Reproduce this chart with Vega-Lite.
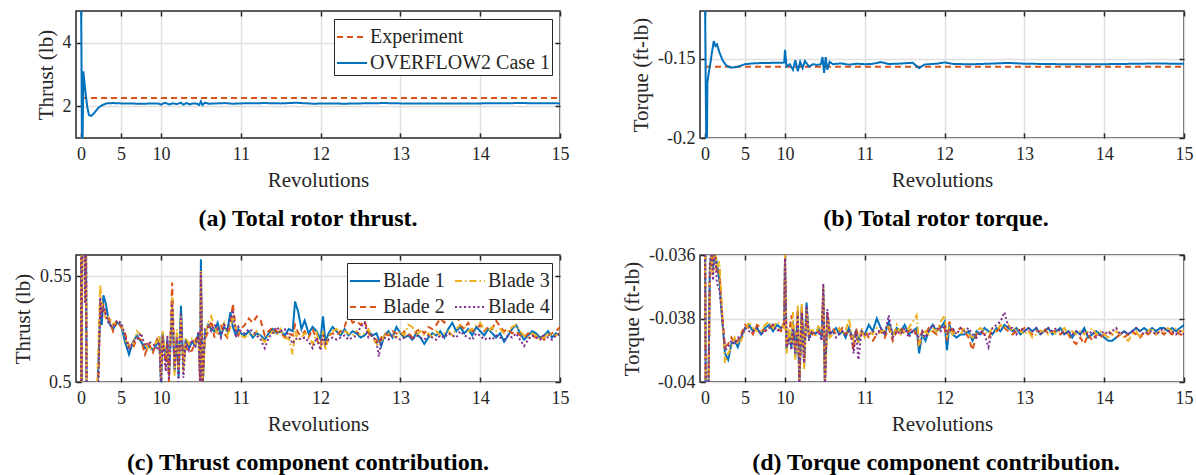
{
  "$schema": "https://vega.github.io/schema/vega-lite/v6.json",
  "background": "white",
  "padding": {"left": 11, "top": 9, "right": 0, "bottom": 0},
  "config": {
    "font": "Liberation Serif",
    "view": {"stroke": "#262626", "strokeWidth": 1.5},
    "axis": {
      "labelFont": "Liberation Serif", "labelFontSize": 18, "labelColor": "#262626",
      "titleFont": "Liberation Serif", "titleFontSize": 21, "titleFontWeight": "normal", "titleColor": "#262626",
      "gridColor": "#e0e0e0", "gridWidth": 1.5, "domain": false,
      "tickColor": "#262626", "tickSize": -5, "tickWidth": 1.5,
      "labelFlush": false, "labelOverlap": false
    },
    "axisX": {"labelPadding": 12, "titlePadding": 6},
    "axisY": {"labelPadding": 10, "titlePadding": 6},
    "legend": {
      "labelFont": "Liberation Serif", "labelFontSize": 20, "labelColor": "#262626", "labelLimit": 0,
      "strokeColor": "#262626", "fillColor": "white", "padding": 2,
      "symbolSize": 900, "symbolStrokeWidth": 2, "symbolType": "stroke",
      "labelOffset": 2, "rowPadding": -9, "columnPadding": 6, "offset": 8
    },
    "title": {"font": "Liberation Serif", "fontSize": 24, "fontWeight": "bold", "color": "black", "orient": "bottom", "frame": "group", "anchor": "middle", "offset": 17}
  },
  "resolve": {"scale": {"color": "independent", "strokeDash": "independent"}, "legend": {"color": "independent", "strokeDash": "independent"}},
  "datasets": {
    "a": [
      {"s": "Experiment", "x": 0, "y": 2.26},
      {"s": "Experiment", "x": 15, "y": 2.26},
      {"s": "OVERFLOW2 Case 1", "x": 0, "y": 5.5},
      {"s": "OVERFLOW2 Case 1", "x": 0.05, "y": 4.0},
      {"s": "OVERFLOW2 Case 1", "x": 0.12, "y": 0.8},
      {"s": "OVERFLOW2 Case 1", "x": 0.2, "y": 0.9},
      {"s": "OVERFLOW2 Case 1", "x": 0.3, "y": 3.1},
      {"s": "OVERFLOW2 Case 1", "x": 0.45, "y": 2.7},
      {"s": "OVERFLOW2 Case 1", "x": 0.6, "y": 2.35},
      {"s": "OVERFLOW2 Case 1", "x": 0.8, "y": 1.95},
      {"s": "OVERFLOW2 Case 1", "x": 1.0, "y": 1.72},
      {"s": "OVERFLOW2 Case 1", "x": 1.3, "y": 1.7},
      {"s": "OVERFLOW2 Case 1", "x": 1.7, "y": 1.8},
      {"s": "OVERFLOW2 Case 1", "x": 2.2, "y": 1.96},
      {"s": "OVERFLOW2 Case 1", "x": 2.7, "y": 2.04},
      {"s": "OVERFLOW2 Case 1", "x": 3.2, "y": 2.09},
      {"s": "OVERFLOW2 Case 1", "x": 4, "y": 2.1},
      {"s": "OVERFLOW2 Case 1", "x": 5, "y": 2.09},
      {"s": "OVERFLOW2 Case 1", "x": 6, "y": 2.09},
      {"s": "OVERFLOW2 Case 1", "x": 7, "y": 2.08},
      {"s": "OVERFLOW2 Case 1", "x": 8, "y": 2.08},
      {"s": "OVERFLOW2 Case 1", "x": 9, "y": 2.09},
      {"s": "OVERFLOW2 Case 1", "x": 9.8, "y": 2.08},
      {"s": "OVERFLOW2 Case 1", "x": 10.0, "y": 2.05},
      {"s": "OVERFLOW2 Case 1", "x": 10.05, "y": 2.11},
      {"s": "OVERFLOW2 Case 1", "x": 10.1, "y": 2.06},
      {"s": "OVERFLOW2 Case 1", "x": 10.15, "y": 2.09},
      {"s": "OVERFLOW2 Case 1", "x": 10.2, "y": 2.07},
      {"s": "OVERFLOW2 Case 1", "x": 10.25, "y": 2.11},
      {"s": "OVERFLOW2 Case 1", "x": 10.28, "y": 2.05},
      {"s": "OVERFLOW2 Case 1", "x": 10.32, "y": 2.1},
      {"s": "OVERFLOW2 Case 1", "x": 10.36, "y": 2.06},
      {"s": "OVERFLOW2 Case 1", "x": 10.4, "y": 2.09},
      {"s": "OVERFLOW2 Case 1", "x": 10.45, "y": 2.08},
      {"s": "OVERFLOW2 Case 1", "x": 10.48, "y": 2.04},
      {"s": "OVERFLOW2 Case 1", "x": 10.5, "y": 2.15},
      {"s": "OVERFLOW2 Case 1", "x": 10.52, "y": 2.04},
      {"s": "OVERFLOW2 Case 1", "x": 10.55, "y": 2.11},
      {"s": "OVERFLOW2 Case 1", "x": 10.6, "y": 2.08},
      {"s": "OVERFLOW2 Case 1", "x": 10.7, "y": 2.09},
      {"s": "OVERFLOW2 Case 1", "x": 10.8, "y": 2.1},
      {"s": "OVERFLOW2 Case 1", "x": 10.9, "y": 2.08},
      {"s": "OVERFLOW2 Case 1", "x": 11, "y": 2.09},
      {"s": "OVERFLOW2 Case 1", "x": 11.3, "y": 2.1},
      {"s": "OVERFLOW2 Case 1", "x": 11.5, "y": 2.09},
      {"s": "OVERFLOW2 Case 1", "x": 11.7, "y": 2.11},
      {"s": "OVERFLOW2 Case 1", "x": 11.9, "y": 2.08},
      {"s": "OVERFLOW2 Case 1", "x": 12.1, "y": 2.09},
      {"s": "OVERFLOW2 Case 1", "x": 12.3, "y": 2.08},
      {"s": "OVERFLOW2 Case 1", "x": 12.5, "y": 2.09},
      {"s": "OVERFLOW2 Case 1", "x": 12.8, "y": 2.1},
      {"s": "OVERFLOW2 Case 1", "x": 13, "y": 2.09},
      {"s": "OVERFLOW2 Case 1", "x": 13.5, "y": 2.09},
      {"s": "OVERFLOW2 Case 1", "x": 14, "y": 2.09},
      {"s": "OVERFLOW2 Case 1", "x": 14.5, "y": 2.1},
      {"s": "OVERFLOW2 Case 1", "x": 15, "y": 2.09}
    ],
    "b": [
      {"s": "Experiment", "x": 0, "y": -0.1551},
      {"s": "Experiment", "x": 15, "y": -0.1551},
      {"s": "OVERFLOW2 Case 1", "x": 0, "y": -0.11},
      {"s": "OVERFLOW2 Case 1", "x": 0.1, "y": -0.17},
      {"s": "OVERFLOW2 Case 1", "x": 0.18, "y": -0.21},
      {"s": "OVERFLOW2 Case 1", "x": 0.25, "y": -0.2},
      {"s": "OVERFLOW2 Case 1", "x": 0.3, "y": -0.165},
      {"s": "OVERFLOW2 Case 1", "x": 0.5, "y": -0.158},
      {"s": "OVERFLOW2 Case 1", "x": 0.7, "y": -0.152},
      {"s": "OVERFLOW2 Case 1", "x": 0.9, "y": -0.145},
      {"s": "OVERFLOW2 Case 1", "x": 1.1, "y": -0.139},
      {"s": "OVERFLOW2 Case 1", "x": 1.3, "y": -0.142},
      {"s": "OVERFLOW2 Case 1", "x": 1.5, "y": -0.141},
      {"s": "OVERFLOW2 Case 1", "x": 1.8, "y": -0.146},
      {"s": "OVERFLOW2 Case 1", "x": 2.2, "y": -0.151},
      {"s": "OVERFLOW2 Case 1", "x": 2.6, "y": -0.154},
      {"s": "OVERFLOW2 Case 1", "x": 3.2, "y": -0.1557},
      {"s": "OVERFLOW2 Case 1", "x": 4, "y": -0.1553},
      {"s": "OVERFLOW2 Case 1", "x": 5, "y": -0.1535},
      {"s": "OVERFLOW2 Case 1", "x": 6, "y": -0.153},
      {"s": "OVERFLOW2 Case 1", "x": 7, "y": -0.1528},
      {"s": "OVERFLOW2 Case 1", "x": 8, "y": -0.1527},
      {"s": "OVERFLOW2 Case 1", "x": 9, "y": -0.1526},
      {"s": "OVERFLOW2 Case 1", "x": 9.9, "y": -0.1525},
      {"s": "OVERFLOW2 Case 1", "x": 10.0, "y": -0.1445},
      {"s": "OVERFLOW2 Case 1", "x": 10.02, "y": -0.155},
      {"s": "OVERFLOW2 Case 1", "x": 10.06, "y": -0.1535},
      {"s": "OVERFLOW2 Case 1", "x": 10.1, "y": -0.157},
      {"s": "OVERFLOW2 Case 1", "x": 10.13, "y": -0.151},
      {"s": "OVERFLOW2 Case 1", "x": 10.16, "y": -0.158},
      {"s": "OVERFLOW2 Case 1", "x": 10.19, "y": -0.152},
      {"s": "OVERFLOW2 Case 1", "x": 10.22, "y": -0.156},
      {"s": "OVERFLOW2 Case 1", "x": 10.25, "y": -0.1515},
      {"s": "OVERFLOW2 Case 1", "x": 10.3, "y": -0.155},
      {"s": "OVERFLOW2 Case 1", "x": 10.35, "y": -0.1535},
      {"s": "OVERFLOW2 Case 1", "x": 10.4, "y": -0.154},
      {"s": "OVERFLOW2 Case 1", "x": 10.45, "y": -0.1535},
      {"s": "OVERFLOW2 Case 1", "x": 10.47, "y": -0.149},
      {"s": "OVERFLOW2 Case 1", "x": 10.49, "y": -0.159},
      {"s": "OVERFLOW2 Case 1", "x": 10.51, "y": -0.149},
      {"s": "OVERFLOW2 Case 1", "x": 10.53, "y": -0.157},
      {"s": "OVERFLOW2 Case 1", "x": 10.56, "y": -0.152},
      {"s": "OVERFLOW2 Case 1", "x": 10.6, "y": -0.1535},
      {"s": "OVERFLOW2 Case 1", "x": 10.7, "y": -0.153},
      {"s": "OVERFLOW2 Case 1", "x": 10.8, "y": -0.1538},
      {"s": "OVERFLOW2 Case 1", "x": 10.9, "y": -0.1532},
      {"s": "OVERFLOW2 Case 1", "x": 11, "y": -0.1535},
      {"s": "OVERFLOW2 Case 1", "x": 11.1, "y": -0.1533},
      {"s": "OVERFLOW2 Case 1", "x": 11.2, "y": -0.1522},
      {"s": "OVERFLOW2 Case 1", "x": 11.3, "y": -0.1534},
      {"s": "OVERFLOW2 Case 1", "x": 11.45, "y": -0.1531},
      {"s": "OVERFLOW2 Case 1", "x": 11.6, "y": -0.1526},
      {"s": "OVERFLOW2 Case 1", "x": 11.68, "y": -0.156},
      {"s": "OVERFLOW2 Case 1", "x": 11.75, "y": -0.1537},
      {"s": "OVERFLOW2 Case 1", "x": 11.9, "y": -0.1532},
      {"s": "OVERFLOW2 Case 1", "x": 12.0, "y": -0.1524},
      {"s": "OVERFLOW2 Case 1", "x": 12.1, "y": -0.1533},
      {"s": "OVERFLOW2 Case 1", "x": 12.3, "y": -0.1536},
      {"s": "OVERFLOW2 Case 1", "x": 12.5, "y": -0.1533},
      {"s": "OVERFLOW2 Case 1", "x": 12.8, "y": -0.1527},
      {"s": "OVERFLOW2 Case 1", "x": 13.0, "y": -0.1532},
      {"s": "OVERFLOW2 Case 1", "x": 13.3, "y": -0.1534},
      {"s": "OVERFLOW2 Case 1", "x": 13.6, "y": -0.1536},
      {"s": "OVERFLOW2 Case 1", "x": 14.0, "y": -0.1535},
      {"s": "OVERFLOW2 Case 1", "x": 14.3, "y": -0.1533},
      {"s": "OVERFLOW2 Case 1", "x": 14.6, "y": -0.1531},
      {"s": "OVERFLOW2 Case 1", "x": 15, "y": -0.1532}
    ],
    "c": [
      {"x": 0, "Blade 1": 0.58, "Blade 2": 0.58, "Blade 3": 0.58, "Blade 4": 0.58},
      {"x": 0.05, "Blade 1": 0.45, "Blade 2": 0.45, "Blade 3": 0.45, "Blade 4": 0.45},
      {"x": 0.15, "Blade 1": 0.6, "Blade 2": 0.6, "Blade 3": 0.6, "Blade 4": 0.6},
      {"x": 0.4, "Blade 1": 0.59, "Blade 2": 0.6, "Blade 3": 0.58, "Blade 4": 0.6},
      {"x": 0.5, "Blade 1": 0.545, "Blade 2": 0.54, "Blade 3": 0.538, "Blade 4": 0.537},
      {"x": 0.6, "Blade 1": 0.6, "Blade 2": 0.6, "Blade 3": 0.6, "Blade 4": 0.6},
      {"x": 0.75, "Blade 1": 0.44, "Blade 2": 0.44, "Blade 3": 0.44, "Blade 4": 0.44},
      {"x": 1.5, "Blade 1": 0.46, "Blade 2": 0.46, "Blade 3": 0.46, "Blade 4": 0.46},
      {"x": 2.0, "Blade 1": 0.488, "Blade 2": 0.49, "Blade 3": 0.495, "Blade 4": 0.485},
      {"x": 2.2, "Blade 1": 0.512, "Blade 2": 0.505, "Blade 3": 0.52, "Blade 4": 0.502},
      {"x": 2.4, "Blade 1": 0.532, "Blade 2": 0.538, "Blade 3": 0.546, "Blade 4": 0.54},
      {"x": 2.6, "Blade 1": 0.527, "Blade 2": 0.533, "Blade 3": 0.537, "Blade 4": 0.53},
      {"x": 2.8, "Blade 1": 0.541, "Blade 2": 0.537, "Blade 3": 0.534, "Blade 4": 0.536},
      {"x": 3.1, "Blade 1": 0.537, "Blade 2": 0.531, "Blade 3": 0.53, "Blade 4": 0.532},
      {"x": 3.5, "Blade 1": 0.528, "Blade 2": 0.53, "Blade 3": 0.531, "Blade 4": 0.527},
      {"x": 4.0, "Blade 1": 0.525, "Blade 2": 0.524, "Blade 3": 0.527, "Blade 4": 0.526},
      {"x": 4.5, "Blade 1": 0.528, "Blade 2": 0.529, "Blade 3": 0.529, "Blade 4": 0.529},
      {"x": 5.0, "Blade 1": 0.527, "Blade 2": 0.526, "Blade 3": 0.528, "Blade 4": 0.528},
      {"x": 5.5, "Blade 1": 0.519, "Blade 2": 0.523, "Blade 3": 0.521, "Blade 4": 0.522},
      {"x": 6.0, "Blade 1": 0.513, "Blade 2": 0.517, "Blade 3": 0.516, "Blade 4": 0.515},
      {"x": 6.5, "Blade 1": 0.519, "Blade 2": 0.516, "Blade 3": 0.518, "Blade 4": 0.519},
      {"x": 7.0, "Blade 1": 0.522, "Blade 2": 0.521, "Blade 3": 0.524, "Blade 4": 0.52},
      {"x": 7.5, "Blade 1": 0.519, "Blade 2": 0.52, "Blade 3": 0.522, "Blade 4": 0.523},
      {"x": 8.0, "Blade 1": 0.516, "Blade 2": 0.513, "Blade 3": 0.518, "Blade 4": 0.517},
      {"x": 8.5, "Blade 1": 0.517, "Blade 2": 0.518, "Blade 3": 0.515, "Blade 4": 0.519},
      {"x": 9.0, "Blade 1": 0.515, "Blade 2": 0.514, "Blade 3": 0.517, "Blade 4": 0.518},
      {"x": 9.5, "Blade 1": 0.518, "Blade 2": 0.52, "Blade 3": 0.519, "Blade 4": 0.516},
      {"x": 9.8, "Blade 1": 0.52, "Blade 2": 0.517, "Blade 3": 0.522, "Blade 4": 0.519},
      {"x": 10.0, "Blade 1": 0.499, "Blade 2": 0.503, "Blade 3": 0.501, "Blade 4": 0.497},
      {"x": 10.02, "Blade 1": 0.523, "Blade 2": 0.522, "Blade 3": 0.524, "Blade 4": 0.521},
      {"x": 10.06, "Blade 1": 0.51, "Blade 2": 0.507, "Blade 3": 0.512, "Blade 4": 0.505},
      {"x": 10.08, "Blade 1": 0.52, "Blade 2": 0.518, "Blade 3": 0.516, "Blade 4": 0.522},
      {"x": 10.1, "Blade 1": 0.503, "Blade 2": 0.5, "Blade 3": 0.506, "Blade 4": 0.501},
      {"x": 10.14, "Blade 1": 0.535, "Blade 2": 0.547, "Blade 3": 0.54, "Blade 4": 0.538},
      {"x": 10.17, "Blade 1": 0.505, "Blade 2": 0.508, "Blade 3": 0.503, "Blade 4": 0.506},
      {"x": 10.2, "Blade 1": 0.523, "Blade 2": 0.52, "Blade 3": 0.525, "Blade 4": 0.521},
      {"x": 10.22, "Blade 1": 0.502, "Blade 2": 0.506, "Blade 3": 0.504, "Blade 4": 0.5},
      {"x": 10.25, "Blade 1": 0.536, "Blade 2": 0.528, "Blade 3": 0.531, "Blade 4": 0.533},
      {"x": 10.28, "Blade 1": 0.507, "Blade 2": 0.51, "Blade 3": 0.505, "Blade 4": 0.502},
      {"x": 10.31, "Blade 1": 0.52, "Blade 2": 0.517, "Blade 3": 0.521, "Blade 4": 0.519},
      {"x": 10.35, "Blade 1": 0.516, "Blade 2": 0.514, "Blade 3": 0.518, "Blade 4": 0.515},
      {"x": 10.39, "Blade 1": 0.519, "Blade 2": 0.515, "Blade 3": 0.521, "Blade 4": 0.52},
      {"x": 10.43, "Blade 1": 0.517, "Blade 2": 0.52, "Blade 3": 0.518, "Blade 4": 0.516},
      {"x": 10.47, "Blade 1": 0.523, "Blade 2": 0.522, "Blade 3": 0.52, "Blade 4": 0.524},
      {"x": 10.49, "Blade 1": 0.502, "Blade 2": 0.5, "Blade 3": 0.498, "Blade 4": 0.499},
      {"x": 10.5, "Blade 1": 0.558, "Blade 2": 0.55, "Blade 3": 0.553, "Blade 4": 0.552},
      {"x": 10.52, "Blade 1": 0.495, "Blade 2": 0.498, "Blade 3": 0.497, "Blade 4": 0.496},
      {"x": 10.55, "Blade 1": 0.523, "Blade 2": 0.52, "Blade 3": 0.521, "Blade 4": 0.525},
      {"x": 10.59, "Blade 1": 0.527, "Blade 2": 0.524, "Blade 3": 0.528, "Blade 4": 0.526},
      {"x": 10.63, "Blade 1": 0.525, "Blade 2": 0.529, "Blade 3": 0.531, "Blade 4": 0.524},
      {"x": 10.67, "Blade 1": 0.524, "Blade 2": 0.521, "Blade 3": 0.526, "Blade 4": 0.527},
      {"x": 10.71, "Blade 1": 0.528, "Blade 2": 0.526, "Blade 3": 0.523, "Blade 4": 0.525},
      {"x": 10.75, "Blade 1": 0.522, "Blade 2": 0.527, "Blade 3": 0.525, "Blade 4": 0.521},
      {"x": 10.79, "Blade 1": 0.526, "Blade 2": 0.523, "Blade 3": 0.528, "Blade 4": 0.527},
      {"x": 10.83, "Blade 1": 0.524, "Blade 2": 0.521, "Blade 3": 0.522, "Blade 4": 0.525},
      {"x": 10.87, "Blade 1": 0.533, "Blade 2": 0.527, "Blade 3": 0.526, "Blade 4": 0.529},
      {"x": 10.9, "Blade 1": 0.526, "Blade 2": 0.537, "Blade 3": 0.531, "Blade 4": 0.534},
      {"x": 10.94, "Blade 1": 0.522, "Blade 2": 0.524, "Blade 3": 0.525, "Blade 4": 0.521},
      {"x": 10.97, "Blade 1": 0.525, "Blade 2": 0.522, "Blade 3": 0.524, "Blade 4": 0.526},
      {"x": 11.0, "Blade 1": 0.523, "Blade 2": 0.525, "Blade 3": 0.522, "Blade 4": 0.524},
      {"x": 11.05, "Blade 1": 0.522, "Blade 2": 0.527, "Blade 3": 0.521, "Blade 4": 0.523},
      {"x": 11.1, "Blade 1": 0.524, "Blade 2": 0.53, "Blade 3": 0.523, "Blade 4": 0.525},
      {"x": 11.15, "Blade 1": 0.521, "Blade 2": 0.528, "Blade 3": 0.522, "Blade 4": 0.524},
      {"x": 11.2, "Blade 1": 0.523, "Blade 2": 0.531, "Blade 3": 0.524, "Blade 4": 0.522},
      {"x": 11.25, "Blade 1": 0.522, "Blade 2": 0.529, "Blade 3": 0.521, "Blade 4": 0.52},
      {"x": 11.3, "Blade 1": 0.52, "Blade 2": 0.522, "Blade 3": 0.519, "Blade 4": 0.516},
      {"x": 11.35, "Blade 1": 0.523, "Blade 2": 0.524, "Blade 3": 0.522, "Blade 4": 0.521},
      {"x": 11.4, "Blade 1": 0.525, "Blade 2": 0.526, "Blade 3": 0.524, "Blade 4": 0.523},
      {"x": 11.45, "Blade 1": 0.523, "Blade 2": 0.524, "Blade 3": 0.522, "Blade 4": 0.526},
      {"x": 11.5, "Blade 1": 0.524, "Blade 2": 0.523, "Blade 3": 0.525, "Blade 4": 0.524},
      {"x": 11.55, "Blade 1": 0.522, "Blade 2": 0.521, "Blade 3": 0.52, "Blade 4": 0.525},
      {"x": 11.6, "Blade 1": 0.525, "Blade 2": 0.523, "Blade 3": 0.521, "Blade 4": 0.522},
      {"x": 11.65, "Blade 1": 0.524, "Blade 2": 0.522, "Blade 3": 0.513, "Blade 4": 0.518},
      {"x": 11.68, "Blade 1": 0.538, "Blade 2": 0.527, "Blade 3": 0.524, "Blade 4": 0.52},
      {"x": 11.72, "Blade 1": 0.533, "Blade 2": 0.523, "Blade 3": 0.52, "Blade 4": 0.521},
      {"x": 11.76, "Blade 1": 0.525, "Blade 2": 0.522, "Blade 3": 0.521, "Blade 4": 0.52},
      {"x": 11.8, "Blade 1": 0.529, "Blade 2": 0.524, "Blade 3": 0.523, "Blade 4": 0.521},
      {"x": 11.85, "Blade 1": 0.523, "Blade 2": 0.521, "Blade 3": 0.522, "Blade 4": 0.519},
      {"x": 11.9, "Blade 1": 0.526, "Blade 2": 0.525, "Blade 3": 0.518, "Blade 4": 0.516},
      {"x": 11.95, "Blade 1": 0.524, "Blade 2": 0.52, "Blade 3": 0.523, "Blade 4": 0.521},
      {"x": 12.0, "Blade 1": 0.52, "Blade 2": 0.517, "Blade 3": 0.516, "Blade 4": 0.515},
      {"x": 12.03, "Blade 1": 0.531, "Blade 2": 0.523, "Blade 3": 0.524, "Blade 4": 0.522},
      {"x": 12.06, "Blade 1": 0.519, "Blade 2": 0.516, "Blade 3": 0.515, "Blade 4": 0.518},
      {"x": 12.1, "Blade 1": 0.523, "Blade 2": 0.522, "Blade 3": 0.521, "Blade 4": 0.52},
      {"x": 12.15, "Blade 1": 0.526, "Blade 2": 0.523, "Blade 3": 0.524, "Blade 4": 0.521},
      {"x": 12.2, "Blade 1": 0.524, "Blade 2": 0.522, "Blade 3": 0.525, "Blade 4": 0.52},
      {"x": 12.25, "Blade 1": 0.522, "Blade 2": 0.524, "Blade 3": 0.523, "Blade 4": 0.521},
      {"x": 12.3, "Blade 1": 0.525, "Blade 2": 0.526, "Blade 3": 0.524, "Blade 4": 0.522},
      {"x": 12.35, "Blade 1": 0.522, "Blade 2": 0.532, "Blade 3": 0.523, "Blade 4": 0.52},
      {"x": 12.4, "Blade 1": 0.524, "Blade 2": 0.528, "Blade 3": 0.522, "Blade 4": 0.521},
      {"x": 12.45, "Blade 1": 0.523, "Blade 2": 0.529, "Blade 3": 0.524, "Blade 4": 0.522},
      {"x": 12.5, "Blade 1": 0.521, "Blade 2": 0.527, "Blade 3": 0.522, "Blade 4": 0.526},
      {"x": 12.55, "Blade 1": 0.522, "Blade 2": 0.529, "Blade 3": 0.523, "Blade 4": 0.528},
      {"x": 12.6, "Blade 1": 0.524, "Blade 2": 0.523, "Blade 3": 0.525, "Blade 4": 0.521},
      {"x": 12.65, "Blade 1": 0.522, "Blade 2": 0.521, "Blade 3": 0.521, "Blade 4": 0.522},
      {"x": 12.7, "Blade 1": 0.523, "Blade 2": 0.52, "Blade 3": 0.518, "Blade 4": 0.519},
      {"x": 12.73, "Blade 1": 0.52, "Blade 2": 0.518, "Blade 3": 0.517, "Blade 4": 0.512},
      {"x": 12.76, "Blade 1": 0.517, "Blade 2": 0.521, "Blade 3": 0.519, "Blade 4": 0.52},
      {"x": 12.8, "Blade 1": 0.522, "Blade 2": 0.523, "Blade 3": 0.522, "Blade 4": 0.521},
      {"x": 12.85, "Blade 1": 0.524, "Blade 2": 0.522, "Blade 3": 0.523, "Blade 4": 0.52},
      {"x": 12.9, "Blade 1": 0.521, "Blade 2": 0.524, "Blade 3": 0.522, "Blade 4": 0.522},
      {"x": 12.95, "Blade 1": 0.526, "Blade 2": 0.523, "Blade 3": 0.521, "Blade 4": 0.521},
      {"x": 13.0, "Blade 1": 0.523, "Blade 2": 0.522, "Blade 3": 0.524, "Blade 4": 0.52},
      {"x": 13.05, "Blade 1": 0.521, "Blade 2": 0.524, "Blade 3": 0.522, "Blade 4": 0.521},
      {"x": 13.1, "Blade 1": 0.522, "Blade 2": 0.523, "Blade 3": 0.527, "Blade 4": 0.522},
      {"x": 13.15, "Blade 1": 0.52, "Blade 2": 0.521, "Blade 3": 0.526, "Blade 4": 0.52},
      {"x": 13.2, "Blade 1": 0.523, "Blade 2": 0.524, "Blade 3": 0.522, "Blade 4": 0.522},
      {"x": 13.25, "Blade 1": 0.521, "Blade 2": 0.525, "Blade 3": 0.524, "Blade 4": 0.521},
      {"x": 13.3, "Blade 1": 0.518, "Blade 2": 0.523, "Blade 3": 0.522, "Blade 4": 0.52},
      {"x": 13.35, "Blade 1": 0.521, "Blade 2": 0.526, "Blade 3": 0.523, "Blade 4": 0.522},
      {"x": 13.4, "Blade 1": 0.523, "Blade 2": 0.525, "Blade 3": 0.521, "Blade 4": 0.521},
      {"x": 13.45, "Blade 1": 0.522, "Blade 2": 0.527, "Blade 3": 0.524, "Blade 4": 0.52},
      {"x": 13.5, "Blade 1": 0.524, "Blade 2": 0.53, "Blade 3": 0.522, "Blade 4": 0.522},
      {"x": 13.55, "Blade 1": 0.521, "Blade 2": 0.528, "Blade 3": 0.523, "Blade 4": 0.521},
      {"x": 13.6, "Blade 1": 0.525, "Blade 2": 0.531, "Blade 3": 0.524, "Blade 4": 0.523},
      {"x": 13.65, "Blade 1": 0.528, "Blade 2": 0.529, "Blade 3": 0.522, "Blade 4": 0.522},
      {"x": 13.7, "Blade 1": 0.524, "Blade 2": 0.533, "Blade 3": 0.525, "Blade 4": 0.521},
      {"x": 13.75, "Blade 1": 0.526, "Blade 2": 0.527, "Blade 3": 0.527, "Blade 4": 0.524},
      {"x": 13.8, "Blade 1": 0.523, "Blade 2": 0.525, "Blade 3": 0.526, "Blade 4": 0.522},
      {"x": 13.85, "Blade 1": 0.525, "Blade 2": 0.528, "Blade 3": 0.524, "Blade 4": 0.521},
      {"x": 13.9, "Blade 1": 0.522, "Blade 2": 0.524, "Blade 3": 0.525, "Blade 4": 0.52},
      {"x": 13.95, "Blade 1": 0.526, "Blade 2": 0.525, "Blade 3": 0.527, "Blade 4": 0.523},
      {"x": 14.0, "Blade 1": 0.524, "Blade 2": 0.527, "Blade 3": 0.528, "Blade 4": 0.522},
      {"x": 14.05, "Blade 1": 0.522, "Blade 2": 0.524, "Blade 3": 0.525, "Blade 4": 0.52},
      {"x": 14.1, "Blade 1": 0.525, "Blade 2": 0.526, "Blade 3": 0.524, "Blade 4": 0.521},
      {"x": 14.15, "Blade 1": 0.523, "Blade 2": 0.525, "Blade 3": 0.526, "Blade 4": 0.52},
      {"x": 14.2, "Blade 1": 0.521, "Blade 2": 0.529, "Blade 3": 0.524, "Blade 4": 0.522},
      {"x": 14.25, "Blade 1": 0.523, "Blade 2": 0.526, "Blade 3": 0.525, "Blade 4": 0.521},
      {"x": 14.3, "Blade 1": 0.519, "Blade 2": 0.524, "Blade 3": 0.523, "Blade 4": 0.52},
      {"x": 14.35, "Blade 1": 0.522, "Blade 2": 0.525, "Blade 3": 0.524, "Blade 4": 0.522},
      {"x": 14.4, "Blade 1": 0.525, "Blade 2": 0.523, "Blade 3": 0.526, "Blade 4": 0.521},
      {"x": 14.45, "Blade 1": 0.527, "Blade 2": 0.524, "Blade 3": 0.527, "Blade 4": 0.523},
      {"x": 14.5, "Blade 1": 0.523, "Blade 2": 0.522, "Blade 3": 0.524, "Blade 4": 0.52},
      {"x": 14.55, "Blade 1": 0.52, "Blade 2": 0.521, "Blade 3": 0.522, "Blade 4": 0.517},
      {"x": 14.6, "Blade 1": 0.522, "Blade 2": 0.523, "Blade 3": 0.521, "Blade 4": 0.52},
      {"x": 14.65, "Blade 1": 0.524, "Blade 2": 0.522, "Blade 3": 0.523, "Blade 4": 0.522},
      {"x": 14.7, "Blade 1": 0.523, "Blade 2": 0.521, "Blade 3": 0.522, "Blade 4": 0.521},
      {"x": 14.75, "Blade 1": 0.521, "Blade 2": 0.522, "Blade 3": 0.52, "Blade 4": 0.52},
      {"x": 14.8, "Blade 1": 0.522, "Blade 2": 0.52, "Blade 3": 0.521, "Blade 4": 0.522},
      {"x": 14.85, "Blade 1": 0.524, "Blade 2": 0.522, "Blade 3": 0.523, "Blade 4": 0.521},
      {"x": 14.9, "Blade 1": 0.521, "Blade 2": 0.523, "Blade 3": 0.522, "Blade 4": 0.52},
      {"x": 14.95, "Blade 1": 0.523, "Blade 2": 0.524, "Blade 3": 0.522, "Blade 4": 0.522},
      {"x": 15.0, "Blade 1": 0.522, "Blade 2": 0.526, "Blade 3": 0.523, "Blade 4": 0.523}
    ],
    "d": [
      {"x": 0, "Blade 1": -0.035, "Blade 2": -0.035, "Blade 3": -0.035, "Blade 4": -0.035},
      {"x": 0.1, "Blade 1": -0.041, "Blade 2": -0.041, "Blade 3": -0.041, "Blade 4": -0.041},
      {"x": 0.4, "Blade 1": -0.041, "Blade 2": -0.041, "Blade 3": -0.041, "Blade 4": -0.041},
      {"x": 0.6, "Blade 1": -0.0365, "Blade 2": -0.037, "Blade 3": -0.0368, "Blade 4": -0.0363},
      {"x": 0.8, "Blade 1": -0.0358, "Blade 2": -0.0357, "Blade 3": -0.0359, "Blade 4": -0.0358},
      {"x": 1.0, "Blade 1": -0.0365, "Blade 2": -0.0362, "Blade 3": -0.0366, "Blade 4": -0.0368},
      {"x": 1.2, "Blade 1": -0.0358, "Blade 2": -0.0359, "Blade 3": -0.0356, "Blade 4": -0.0357},
      {"x": 1.5, "Blade 1": -0.0363, "Blade 2": -0.0366, "Blade 3": -0.0364, "Blade 4": -0.0369},
      {"x": 1.8, "Blade 1": -0.0368, "Blade 2": -0.0365, "Blade 3": -0.0362, "Blade 4": -0.0371},
      {"x": 2.1, "Blade 1": -0.0379, "Blade 2": -0.0377, "Blade 3": -0.0376, "Blade 4": -0.0378},
      {"x": 2.5, "Blade 1": -0.0391, "Blade 2": -0.0389, "Blade 3": -0.0394, "Blade 4": -0.039},
      {"x": 2.9, "Blade 1": -0.0393, "Blade 2": -0.0388, "Blade 3": -0.0391, "Blade 4": -0.0389},
      {"x": 3.3, "Blade 1": -0.0388, "Blade 2": -0.0386, "Blade 3": -0.0389, "Blade 4": -0.0387},
      {"x": 3.7, "Blade 1": -0.0387, "Blade 2": -0.0388, "Blade 3": -0.0386, "Blade 4": -0.0388},
      {"x": 4.1, "Blade 1": -0.0389, "Blade 2": -0.0387, "Blade 3": -0.0388, "Blade 4": -0.0386},
      {"x": 4.5, "Blade 1": -0.0386, "Blade 2": -0.0385, "Blade 3": -0.0387, "Blade 4": -0.0386},
      {"x": 5.0, "Blade 1": -0.0383, "Blade 2": -0.0382, "Blade 3": -0.0384, "Blade 4": -0.0383},
      {"x": 5.5, "Blade 1": -0.0382, "Blade 2": -0.0383, "Blade 3": -0.0381, "Blade 4": -0.0384},
      {"x": 6.0, "Blade 1": -0.0384, "Blade 2": -0.0385, "Blade 3": -0.0383, "Blade 4": -0.0384},
      {"x": 6.5, "Blade 1": -0.0383, "Blade 2": -0.0382, "Blade 3": -0.0384, "Blade 4": -0.0383},
      {"x": 7.0, "Blade 1": -0.0385, "Blade 2": -0.0383, "Blade 3": -0.0384, "Blade 4": -0.0385},
      {"x": 7.5, "Blade 1": -0.0383, "Blade 2": -0.0384, "Blade 3": -0.0382, "Blade 4": -0.0384},
      {"x": 8.0, "Blade 1": -0.0382, "Blade 2": -0.0383, "Blade 3": -0.0381, "Blade 4": -0.0383},
      {"x": 8.5, "Blade 1": -0.0384, "Blade 2": -0.0382, "Blade 3": -0.0383, "Blade 4": -0.0382},
      {"x": 9.0, "Blade 1": -0.0382, "Blade 2": -0.0383, "Blade 3": -0.0381, "Blade 4": -0.0384},
      {"x": 9.5, "Blade 1": -0.0383, "Blade 2": -0.0384, "Blade 3": -0.0382, "Blade 4": -0.0383},
      {"x": 9.9, "Blade 1": -0.0382, "Blade 2": -0.0381, "Blade 3": -0.0383, "Blade 4": -0.0382},
      {"x": 10.0, "Blade 1": -0.0361, "Blade 2": -0.0362, "Blade 3": -0.036, "Blade 4": -0.0361},
      {"x": 10.02, "Blade 1": -0.039, "Blade 2": -0.0389, "Blade 3": -0.0391, "Blade 4": -0.0389},
      {"x": 10.05, "Blade 1": -0.0384, "Blade 2": -0.0385, "Blade 3": -0.0383, "Blade 4": -0.0386},
      {"x": 10.08, "Blade 1": -0.0389, "Blade 2": -0.0379, "Blade 3": -0.0388, "Blade 4": -0.039},
      {"x": 10.1, "Blade 1": -0.0381, "Blade 2": -0.0386, "Blade 3": -0.0378, "Blade 4": -0.0383},
      {"x": 10.13, "Blade 1": -0.0392, "Blade 2": -0.039, "Blade 3": -0.0393, "Blade 4": -0.0391},
      {"x": 10.16, "Blade 1": -0.0378, "Blade 2": -0.0377, "Blade 3": -0.0376, "Blade 4": -0.0379},
      {"x": 10.18, "Blade 1": -0.0401, "Blade 2": -0.0402, "Blade 3": -0.04, "Blade 4": -0.0401},
      {"x": 10.21, "Blade 1": -0.0376, "Blade 2": -0.0377, "Blade 3": -0.0375, "Blade 4": -0.0378},
      {"x": 10.24, "Blade 1": -0.0395, "Blade 2": -0.0393, "Blade 3": -0.0396, "Blade 4": -0.0394},
      {"x": 10.27, "Blade 1": -0.0375, "Blade 2": -0.0379, "Blade 3": -0.0377, "Blade 4": -0.0376},
      {"x": 10.3, "Blade 1": -0.0386, "Blade 2": -0.0384, "Blade 3": -0.0385, "Blade 4": -0.0387},
      {"x": 10.34, "Blade 1": -0.0384, "Blade 2": -0.0385, "Blade 3": -0.0383, "Blade 4": -0.0384},
      {"x": 10.38, "Blade 1": -0.0385, "Blade 2": -0.0384, "Blade 3": -0.0386, "Blade 4": -0.0385},
      {"x": 10.42, "Blade 1": -0.0383, "Blade 2": -0.0384, "Blade 3": -0.0382, "Blade 4": -0.0384},
      {"x": 10.46, "Blade 1": -0.0386, "Blade 2": -0.0385, "Blade 3": -0.0384, "Blade 4": -0.0387},
      {"x": 10.48, "Blade 1": -0.0371, "Blade 2": -0.0372, "Blade 3": -0.037, "Blade 4": -0.0369},
      {"x": 10.5, "Blade 1": -0.0401, "Blade 2": -0.04, "Blade 3": -0.0402, "Blade 4": -0.0401},
      {"x": 10.53, "Blade 1": -0.0379, "Blade 2": -0.0378, "Blade 3": -0.038, "Blade 4": -0.0377},
      {"x": 10.56, "Blade 1": -0.0385, "Blade 2": -0.0384, "Blade 3": -0.0386, "Blade 4": -0.0385},
      {"x": 10.6, "Blade 1": -0.0384, "Blade 2": -0.0383, "Blade 3": -0.0385, "Blade 4": -0.0384},
      {"x": 10.64, "Blade 1": -0.0383, "Blade 2": -0.0385, "Blade 3": -0.0384, "Blade 4": -0.0386},
      {"x": 10.68, "Blade 1": -0.0385, "Blade 2": -0.0384, "Blade 3": -0.0383, "Blade 4": -0.0385},
      {"x": 10.72, "Blade 1": -0.0384, "Blade 2": -0.0383, "Blade 3": -0.0385, "Blade 4": -0.0384},
      {"x": 10.76, "Blade 1": -0.0386, "Blade 2": -0.0385, "Blade 3": -0.0384, "Blade 4": -0.0385},
      {"x": 10.8, "Blade 1": -0.0383, "Blade 2": -0.0384, "Blade 3": -0.038, "Blade 4": -0.0384},
      {"x": 10.83, "Blade 1": -0.0385, "Blade 2": -0.0386, "Blade 3": -0.0384, "Blade 4": -0.0385},
      {"x": 10.86, "Blade 1": -0.0386, "Blade 2": -0.039, "Blade 3": -0.0387, "Blade 4": -0.0391},
      {"x": 10.89, "Blade 1": -0.0384, "Blade 2": -0.0383, "Blade 3": -0.0385, "Blade 4": -0.0384},
      {"x": 10.92, "Blade 1": -0.0387, "Blade 2": -0.0386, "Blade 3": -0.0388, "Blade 4": -0.0393},
      {"x": 10.96, "Blade 1": -0.0384, "Blade 2": -0.0385, "Blade 3": -0.0383, "Blade 4": -0.0384},
      {"x": 11.0, "Blade 1": -0.0385, "Blade 2": -0.0384, "Blade 3": -0.0386, "Blade 4": -0.0385},
      {"x": 11.05, "Blade 1": -0.0382, "Blade 2": -0.0386, "Blade 3": -0.0384, "Blade 4": -0.0385},
      {"x": 11.1, "Blade 1": -0.0384, "Blade 2": -0.0387, "Blade 3": -0.0385, "Blade 4": -0.0384},
      {"x": 11.15, "Blade 1": -0.038, "Blade 2": -0.0385, "Blade 3": -0.0383, "Blade 4": -0.0385},
      {"x": 11.2, "Blade 1": -0.0383, "Blade 2": -0.0384, "Blade 3": -0.0384, "Blade 4": -0.0383},
      {"x": 11.25, "Blade 1": -0.0385, "Blade 2": -0.0386, "Blade 3": -0.0384, "Blade 4": -0.0385},
      {"x": 11.3, "Blade 1": -0.0381, "Blade 2": -0.0383, "Blade 3": -0.0382, "Blade 4": -0.0379},
      {"x": 11.35, "Blade 1": -0.0385, "Blade 2": -0.0387, "Blade 3": -0.0386, "Blade 4": -0.0386},
      {"x": 11.4, "Blade 1": -0.0383, "Blade 2": -0.0384, "Blade 3": -0.0382, "Blade 4": -0.0384},
      {"x": 11.45, "Blade 1": -0.0384, "Blade 2": -0.0383, "Blade 3": -0.0385, "Blade 4": -0.0385},
      {"x": 11.5, "Blade 1": -0.0382, "Blade 2": -0.0385, "Blade 3": -0.0384, "Blade 4": -0.0383},
      {"x": 11.55, "Blade 1": -0.0385, "Blade 2": -0.0384, "Blade 3": -0.0383, "Blade 4": -0.0386},
      {"x": 11.6, "Blade 1": -0.0384, "Blade 2": -0.0383, "Blade 3": -0.0381, "Blade 4": -0.0384},
      {"x": 11.65, "Blade 1": -0.0383, "Blade 2": -0.0385, "Blade 3": -0.0379, "Blade 4": -0.0385},
      {"x": 11.68, "Blade 1": -0.0391, "Blade 2": -0.0389, "Blade 3": -0.0388, "Blade 4": -0.0386},
      {"x": 11.72, "Blade 1": -0.0385, "Blade 2": -0.0384, "Blade 3": -0.0386, "Blade 4": -0.0384},
      {"x": 11.76, "Blade 1": -0.0387, "Blade 2": -0.0385, "Blade 3": -0.0384, "Blade 4": -0.0386},
      {"x": 11.8, "Blade 1": -0.0384, "Blade 2": -0.0383, "Blade 3": -0.0385, "Blade 4": -0.0384},
      {"x": 11.85, "Blade 1": -0.0382, "Blade 2": -0.0384, "Blade 3": -0.0383, "Blade 4": -0.0382},
      {"x": 11.9, "Blade 1": -0.0384, "Blade 2": -0.0385, "Blade 3": -0.0384, "Blade 4": -0.0383},
      {"x": 11.95, "Blade 1": -0.0383, "Blade 2": -0.0382, "Blade 3": -0.0381, "Blade 4": -0.0384},
      {"x": 12.0, "Blade 1": -0.0381, "Blade 2": -0.0383, "Blade 3": -0.0379, "Blade 4": -0.0382},
      {"x": 12.03, "Blade 1": -0.039, "Blade 2": -0.0387, "Blade 3": -0.0386, "Blade 4": -0.0385},
      {"x": 12.06, "Blade 1": -0.0382, "Blade 2": -0.0381, "Blade 3": -0.0383, "Blade 4": -0.0384},
      {"x": 12.1, "Blade 1": -0.0385, "Blade 2": -0.0384, "Blade 3": -0.0385, "Blade 4": -0.0383},
      {"x": 12.15, "Blade 1": -0.0386, "Blade 2": -0.0384, "Blade 3": -0.0384, "Blade 4": -0.0385},
      {"x": 12.2, "Blade 1": -0.0385, "Blade 2": -0.0383, "Blade 3": -0.0385, "Blade 4": -0.0383},
      {"x": 12.25, "Blade 1": -0.0385, "Blade 2": -0.0384, "Blade 3": -0.0383, "Blade 4": -0.0384},
      {"x": 12.3, "Blade 1": -0.0384, "Blade 2": -0.0386, "Blade 3": -0.0385, "Blade 4": -0.0383},
      {"x": 12.35, "Blade 1": -0.0387, "Blade 2": -0.039, "Blade 3": -0.0386, "Blade 4": -0.0385},
      {"x": 12.4, "Blade 1": -0.0384, "Blade 2": -0.0385, "Blade 3": -0.0384, "Blade 4": -0.0386},
      {"x": 12.45, "Blade 1": -0.0385, "Blade 2": -0.0384, "Blade 3": -0.0383, "Blade 4": -0.0384},
      {"x": 12.5, "Blade 1": -0.0383, "Blade 2": -0.0385, "Blade 3": -0.0384, "Blade 4": -0.0385},
      {"x": 12.55, "Blade 1": -0.0384, "Blade 2": -0.0386, "Blade 3": -0.0385, "Blade 4": -0.0389},
      {"x": 12.6, "Blade 1": -0.0385, "Blade 2": -0.0384, "Blade 3": -0.0383, "Blade 4": -0.0383},
      {"x": 12.65, "Blade 1": -0.0383, "Blade 2": -0.0384, "Blade 3": -0.0384, "Blade 4": -0.0382},
      {"x": 12.7, "Blade 1": -0.0384, "Blade 2": -0.0383, "Blade 3": -0.0382, "Blade 4": -0.0381},
      {"x": 12.75, "Blade 1": -0.0382, "Blade 2": -0.0383, "Blade 3": -0.0383, "Blade 4": -0.0378},
      {"x": 12.8, "Blade 1": -0.0383, "Blade 2": -0.0384, "Blade 3": -0.0382, "Blade 4": -0.0383},
      {"x": 12.85, "Blade 1": -0.0384, "Blade 2": -0.0385, "Blade 3": -0.0384, "Blade 4": -0.0383},
      {"x": 12.9, "Blade 1": -0.0383, "Blade 2": -0.0384, "Blade 3": -0.0383, "Blade 4": -0.0385},
      {"x": 12.95, "Blade 1": -0.0385, "Blade 2": -0.0384, "Blade 3": -0.0384, "Blade 4": -0.0383},
      {"x": 13.0, "Blade 1": -0.0384, "Blade 2": -0.0383, "Blade 3": -0.0385, "Blade 4": -0.0384},
      {"x": 13.05, "Blade 1": -0.0383, "Blade 2": -0.0384, "Blade 3": -0.0384, "Blade 4": -0.0383},
      {"x": 13.1, "Blade 1": -0.0384, "Blade 2": -0.0385, "Blade 3": -0.0386, "Blade 4": -0.0384},
      {"x": 13.15, "Blade 1": -0.0383, "Blade 2": -0.0384, "Blade 3": -0.0385, "Blade 4": -0.0383},
      {"x": 13.2, "Blade 1": -0.0385, "Blade 2": -0.0384, "Blade 3": -0.0384, "Blade 4": -0.0385},
      {"x": 13.25, "Blade 1": -0.0384, "Blade 2": -0.0383, "Blade 3": -0.0384, "Blade 4": -0.0384},
      {"x": 13.3, "Blade 1": -0.0383, "Blade 2": -0.0385, "Blade 3": -0.0385, "Blade 4": -0.0383},
      {"x": 13.35, "Blade 1": -0.0385, "Blade 2": -0.0384, "Blade 3": -0.0384, "Blade 4": -0.0384},
      {"x": 13.4, "Blade 1": -0.0384, "Blade 2": -0.0384, "Blade 3": -0.0385, "Blade 4": -0.0383},
      {"x": 13.45, "Blade 1": -0.0383, "Blade 2": -0.0385, "Blade 3": -0.0384, "Blade 4": -0.0384},
      {"x": 13.5, "Blade 1": -0.0385, "Blade 2": -0.0384, "Blade 3": -0.0383, "Blade 4": -0.0385},
      {"x": 13.55, "Blade 1": -0.0384, "Blade 2": -0.0385, "Blade 3": -0.0385, "Blade 4": -0.0384},
      {"x": 13.6, "Blade 1": -0.0386, "Blade 2": -0.0387, "Blade 3": -0.0384, "Blade 4": -0.0385},
      {"x": 13.65, "Blade 1": -0.0384, "Blade 2": -0.0388, "Blade 3": -0.0385, "Blade 4": -0.0384},
      {"x": 13.7, "Blade 1": -0.0385, "Blade 2": -0.0386, "Blade 3": -0.0384, "Blade 4": -0.0385},
      {"x": 13.75, "Blade 1": -0.0383, "Blade 2": -0.0388, "Blade 3": -0.0385, "Blade 4": -0.0384},
      {"x": 13.8, "Blade 1": -0.0386, "Blade 2": -0.0385, "Blade 3": -0.0384, "Blade 4": -0.0385},
      {"x": 13.85, "Blade 1": -0.0385, "Blade 2": -0.0387, "Blade 3": -0.0383, "Blade 4": -0.0384},
      {"x": 13.9, "Blade 1": -0.0384, "Blade 2": -0.0385, "Blade 3": -0.0385, "Blade 4": -0.0386},
      {"x": 13.95, "Blade 1": -0.0385, "Blade 2": -0.0386, "Blade 3": -0.0384, "Blade 4": -0.0385},
      {"x": 14.0, "Blade 1": -0.0386, "Blade 2": -0.0385, "Blade 3": -0.0385, "Blade 4": -0.0384},
      {"x": 14.05, "Blade 1": -0.0387, "Blade 2": -0.0384, "Blade 3": -0.0386, "Blade 4": -0.0385},
      {"x": 14.1, "Blade 1": -0.0387, "Blade 2": -0.0385, "Blade 3": -0.0385, "Blade 4": -0.0384},
      {"x": 14.15, "Blade 1": -0.0386, "Blade 2": -0.0386, "Blade 3": -0.0384, "Blade 4": -0.0383},
      {"x": 14.2, "Blade 1": -0.0385, "Blade 2": -0.0385, "Blade 3": -0.0385, "Blade 4": -0.0385},
      {"x": 14.25, "Blade 1": -0.0384, "Blade 2": -0.0386, "Blade 3": -0.0386, "Blade 4": -0.0384},
      {"x": 14.3, "Blade 1": -0.0385, "Blade 2": -0.0385, "Blade 3": -0.0387, "Blade 4": -0.0385},
      {"x": 14.35, "Blade 1": -0.0384, "Blade 2": -0.0384, "Blade 3": -0.0385, "Blade 4": -0.0384},
      {"x": 14.4, "Blade 1": -0.0383, "Blade 2": -0.0385, "Blade 3": -0.0384, "Blade 4": -0.0383},
      {"x": 14.45, "Blade 1": -0.0384, "Blade 2": -0.0386, "Blade 3": -0.0386, "Blade 4": -0.0384},
      {"x": 14.5, "Blade 1": -0.0383, "Blade 2": -0.0384, "Blade 3": -0.0385, "Blade 4": -0.0385},
      {"x": 14.55, "Blade 1": -0.0384, "Blade 2": -0.0385, "Blade 3": -0.0384, "Blade 4": -0.0384},
      {"x": 14.6, "Blade 1": -0.0383, "Blade 2": -0.0384, "Blade 3": -0.0383, "Blade 4": -0.0384},
      {"x": 14.65, "Blade 1": -0.0384, "Blade 2": -0.0385, "Blade 3": -0.0385, "Blade 4": -0.0385},
      {"x": 14.7, "Blade 1": -0.0383, "Blade 2": -0.0384, "Blade 3": -0.0384, "Blade 4": -0.0384},
      {"x": 14.75, "Blade 1": -0.0383, "Blade 2": -0.0385, "Blade 3": -0.0384, "Blade 4": -0.0383},
      {"x": 14.8, "Blade 1": -0.0384, "Blade 2": -0.0384, "Blade 3": -0.0383, "Blade 4": -0.0384},
      {"x": 14.85, "Blade 1": -0.0383, "Blade 2": -0.0385, "Blade 3": -0.0384, "Blade 4": -0.0384},
      {"x": 14.9, "Blade 1": -0.0384, "Blade 2": -0.0384, "Blade 3": -0.0383, "Blade 4": -0.0385},
      {"x": 14.95, "Blade 1": -0.0383, "Blade 2": -0.0385, "Blade 3": -0.0384, "Blade 4": -0.0384},
      {"x": 15.0, "Blade 1": -0.0382, "Blade 2": -0.0385, "Blade 3": -0.0384, "Blade 4": -0.0385}
    ]
  },
  "bounds": "flush",
  "columns": 2,
  "spacing": {"row": 117, "column": 140},
  "concat": [
    {
      "width": 484, "height": 127,
      "title": {"text": "(a) Total rotor thrust.", "dx": -10},
      "data": {"name": "a"},
      "layer": [
        {
          "mark": {"type": "line", "clip": true, "strokeWidth": 2},
          "encoding": {
            "x": {"field": "x", "type": "quantitative", "scale": {"domain": [-0.625, 10, 15], "range": [0, 85, 484], "nice": false, "zero": false}, "axis": {"values": [0, 5, 10, 11, 12, 13, 14, 15], "title": "Revolutions"}},
            "y": {"field": "y", "type": "quantitative", "scale": {"domain": [1, 5], "nice": false, "zero": false}, "axis": {"values": [2, 4], "title": "Thrust (lb)", "labelExpr": "'' + datum.value"}},
            "color": {"field": "s", "type": "nominal", "scale": {"domain": ["Experiment", "OVERFLOW2 Case 1"], "range": ["#D95319", "#0072BD"]}, "legend": {"title": null, "orient": "top-right"}},
            "strokeDash": {"field": "s", "type": "nominal", "scale": {"domain": ["Experiment", "OVERFLOW2 Case 1"], "range": [[6, 4], [1, 0]]}, "legend": {"title": null, "orient": "top-right"}}
          }
        },
        {
          "mark": {"type": "point", "opacity": 0, "clip": true},
          "encoding": {
            "x": {"field": "x", "type": "quantitative", "axis": {"orient": "top", "values": [0, 5, 10, 11, 12, 13, 14, 15], "labels": false, "grid": false, "title": null}},
            "y": {"field": "y", "type": "quantitative", "axis": {"orient": "right", "values": [2, 4], "labels": false, "grid": false, "title": null}}
          }
        }
      ],
      "resolve": {"axis": {"x": "independent", "y": "independent"}}
    },
    {
      "width": 484, "height": 127,
      "title": {"text": "(b) Total rotor torque.", "dx": -6},
      "data": {"name": "b"},
      "layer": [
        {
          "mark": {"type": "line", "clip": true, "strokeWidth": 2},
          "encoding": {
            "x": {"field": "x", "type": "quantitative", "scale": {"domain": [-0.625, 10, 15], "range": [0, 85, 484], "nice": false, "zero": false}, "axis": {"values": [0, 5, 10, 11, 12, 13, 14, 15], "title": "Revolutions"}},
            "y": {"field": "y", "type": "quantitative", "scale": {"domain": [-0.2, -0.12], "nice": false, "zero": false}, "axis": {"values": [-0.2, -0.15], "title": "Torque (ft-lb)", "labelExpr": "'' + datum.value"}},
            "color": {"field": "s", "type": "nominal", "scale": {"domain": ["Experiment", "OVERFLOW2 Case 1"], "range": ["#D95319", "#0072BD"]}, "legend": null},
            "strokeDash": {"field": "s", "type": "nominal", "scale": {"domain": ["Experiment", "OVERFLOW2 Case 1"], "range": [[6, 4], [1, 0]]}, "legend": null}
          }
        },
        {
          "mark": {"type": "point", "opacity": 0, "clip": true},
          "encoding": {
            "x": {"field": "x", "type": "quantitative", "axis": {"orient": "top", "values": [0, 5, 10, 11, 12, 13, 14, 15], "labels": false, "grid": false, "title": null}},
            "y": {"field": "y", "type": "quantitative", "axis": {"orient": "right", "values": [-0.2, -0.15], "labels": false, "grid": false, "title": null}}
          }
        }
      ],
      "resolve": {"axis": {"x": "independent", "y": "independent"}}
    },
    {
      "width": 484, "height": 127,
      "title": {"text": "(c) Thrust component contribution.", "dx": -10},
      "data": {"name": "c"},
      "transform": [{"fold": ["Blade 1", "Blade 2", "Blade 3", "Blade 4"], "as": ["s", "y"]}],
      "layer": [
        {
          "mark": {"type": "line", "clip": true, "strokeWidth": 2},
          "encoding": {
            "x": {"field": "x", "type": "quantitative", "scale": {"domain": [-0.625, 10, 15], "range": [0, 85, 484], "nice": false, "zero": false}, "axis": {"values": [0, 5, 10, 11, 12, 13, 14, 15], "title": "Revolutions"}},
            "y": {"field": "y", "type": "quantitative", "scale": {"domain": [0.5, 0.56], "nice": false, "zero": false}, "axis": {"values": [0.5, 0.55], "title": "Thrust (lb)", "labelExpr": "'' + datum.value"}},
            "color": {"field": "s", "type": "nominal", "scale": {"domain": ["Blade 1", "Blade 2", "Blade 3", "Blade 4"], "range": ["#0072BD", "#D95319", "#EDB120", "#7E2F8E"]}, "legend": {"title": null, "orient": "top-right", "columns": 2}},
            "strokeDash": {"field": "s", "type": "nominal", "scale": {"domain": ["Blade 1", "Blade 2", "Blade 3", "Blade 4"], "range": [[1, 0], [6, 4], [7, 3, 1.5, 3], [2, 2.5]]}, "legend": {"title": null, "orient": "top-right", "columns": 2}}
          }
        },
        {
          "mark": {"type": "point", "opacity": 0, "clip": true},
          "encoding": {
            "x": {"field": "x", "type": "quantitative", "axis": {"orient": "top", "values": [0, 5, 10, 11, 12, 13, 14, 15], "labels": false, "grid": false, "title": null}},
            "y": {"field": "y", "type": "quantitative", "axis": {"orient": "right", "values": [0.5, 0.55], "labels": false, "grid": false, "title": null}}
          }
        }
      ],
      "resolve": {"axis": {"x": "independent", "y": "independent"}}
    },
    {
      "width": 484, "height": 127,
      "title": {"text": "(d) Torque component contribution.", "dx": -6},
      "data": {"name": "d"},
      "transform": [{"fold": ["Blade 1", "Blade 2", "Blade 3", "Blade 4"], "as": ["s", "y"]}],
      "layer": [
        {
          "mark": {"type": "line", "clip": true, "strokeWidth": 2},
          "encoding": {
            "x": {"field": "x", "type": "quantitative", "scale": {"domain": [-0.625, 10, 15], "range": [0, 85, 484], "nice": false, "zero": false}, "axis": {"values": [0, 5, 10, 11, 12, 13, 14, 15], "title": "Revolutions"}},
            "y": {"field": "y", "type": "quantitative", "scale": {"domain": [-0.04, -0.036], "nice": false, "zero": false}, "axis": {"values": [-0.04, -0.038, -0.036], "title": "Torque (ft-lb)", "labelExpr": "'' + datum.value"}},
            "color": {"field": "s", "type": "nominal", "scale": {"domain": ["Blade 1", "Blade 2", "Blade 3", "Blade 4"], "range": ["#0072BD", "#D95319", "#EDB120", "#7E2F8E"]}, "legend": null},
            "strokeDash": {"field": "s", "type": "nominal", "scale": {"domain": ["Blade 1", "Blade 2", "Blade 3", "Blade 4"], "range": [[1, 0], [6, 4], [7, 3, 1.5, 3], [2, 2.5]]}, "legend": null}
          }
        },
        {
          "mark": {"type": "point", "opacity": 0, "clip": true},
          "encoding": {
            "x": {"field": "x", "type": "quantitative", "axis": {"orient": "top", "values": [0, 5, 10, 11, 12, 13, 14, 15], "labels": false, "grid": false, "title": null}},
            "y": {"field": "y", "type": "quantitative", "axis": {"orient": "right", "values": [-0.04, -0.038, -0.036], "labels": false, "grid": false, "title": null}}
          }
        }
      ],
      "resolve": {"axis": {"x": "independent", "y": "independent"}}
    }
  ]
}
